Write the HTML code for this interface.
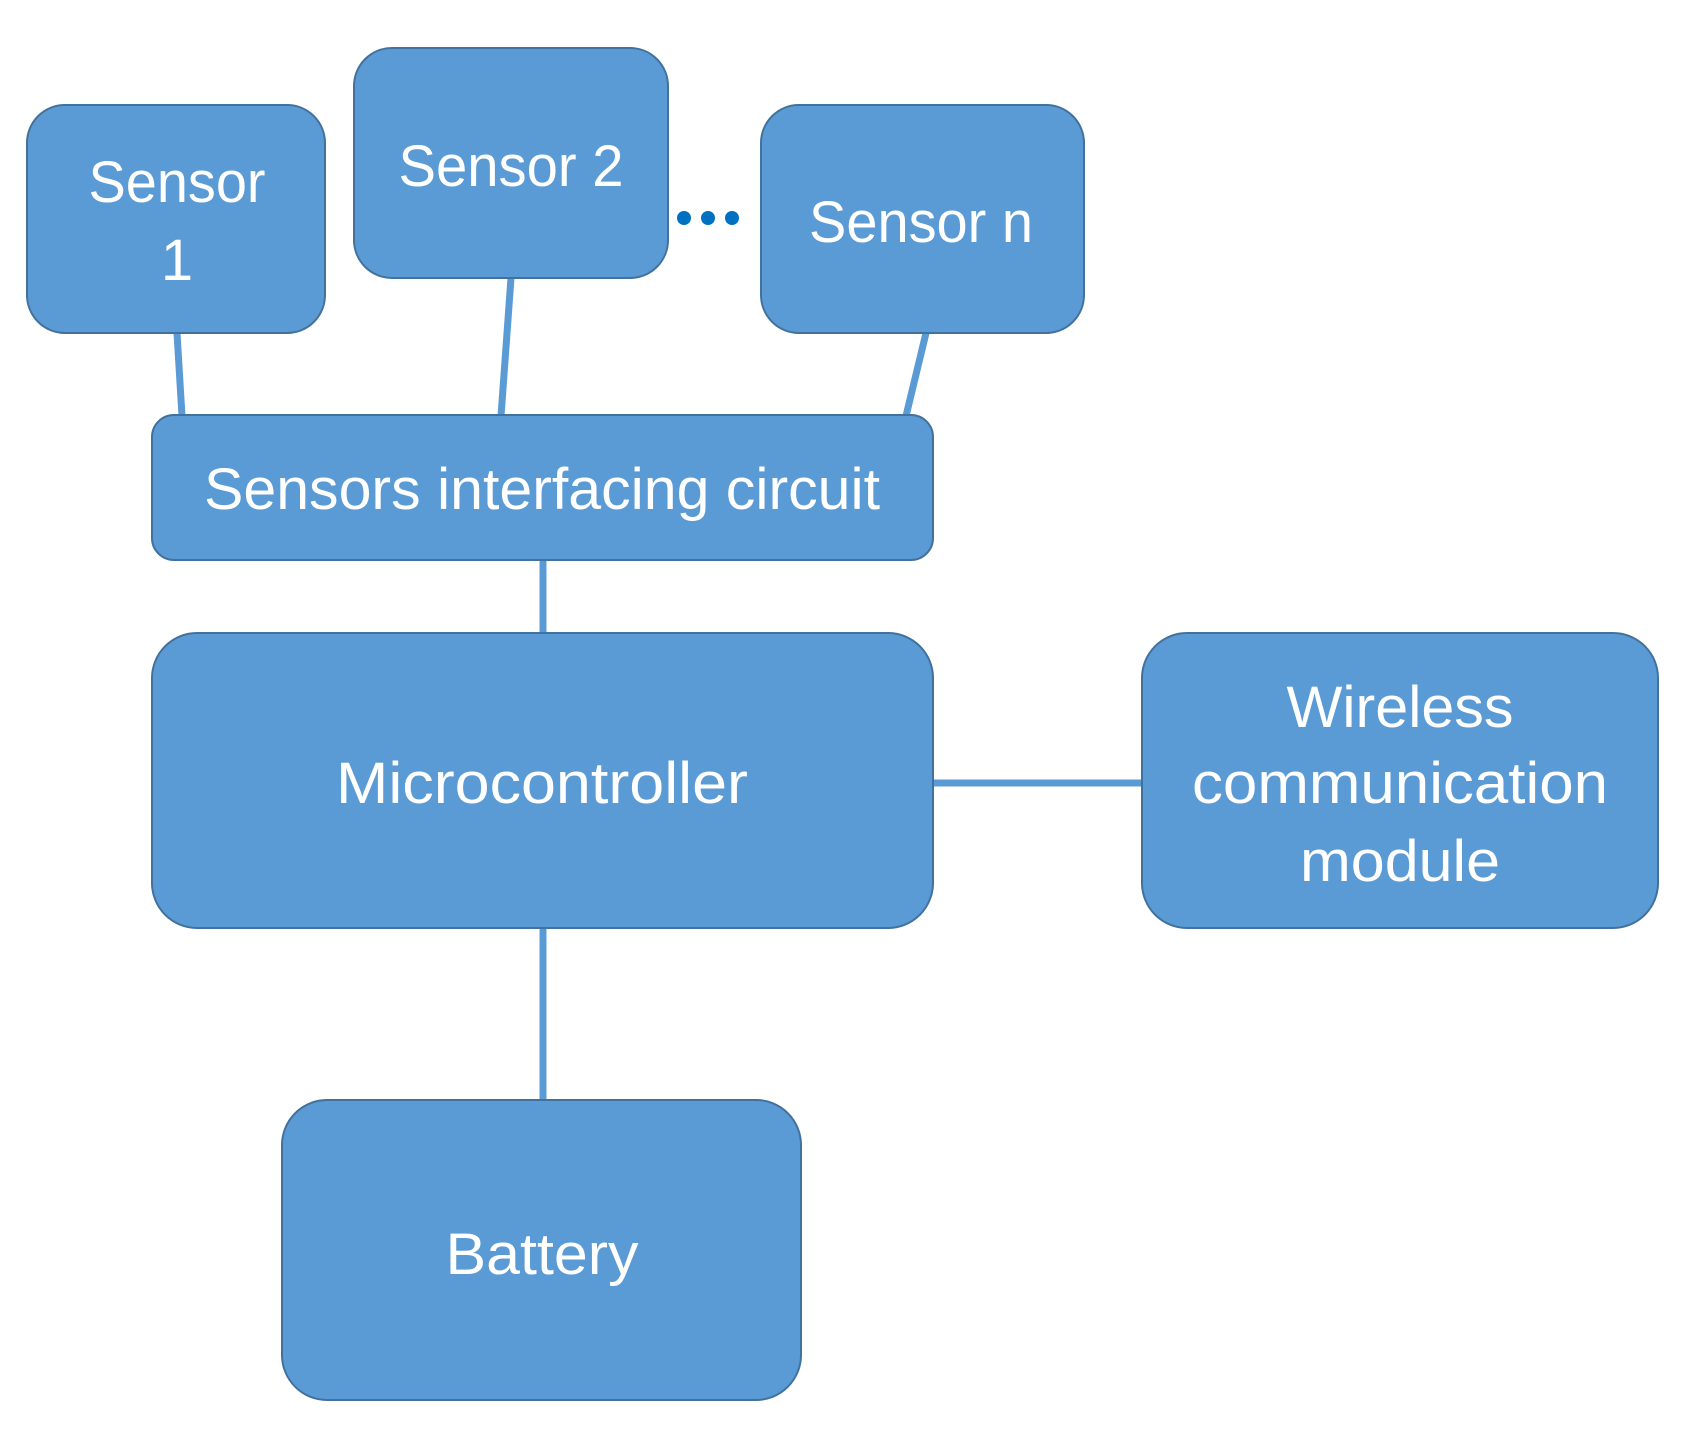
<!DOCTYPE html>
<html><head><style>html,body{margin:0;padding:0;background:#fff;}svg{display:block}</style></head>
<body>
<svg width="1689" height="1432" viewBox="0 0 1689 1432" xmlns="http://www.w3.org/2000/svg">
<g stroke="#5b9bd5" stroke-width="7" fill="none">
<line x1="177" y1="333" x2="182" y2="416"/>
<line x1="511" y1="278" x2="501" y2="416"/>
<line x1="926" y1="333" x2="906" y2="416"/>
<line x1="543" y1="560" x2="543" y2="633"/>
<line x1="543" y1="928" x2="543" y2="1100"/>
<line x1="933" y1="783" x2="1142" y2="783"/>
</g>
<g fill="#0070c0">
<circle cx="684" cy="218" r="7"/><circle cx="708" cy="218" r="7"/><circle cx="732" cy="218" r="7"/>
</g>
<g fill="#5b9bd5" stroke="#41719c" stroke-width="2">
<rect x="27" y="105" width="298" height="228" rx="38"/>
<rect x="354" y="48" width="314" height="230" rx="38"/>
<rect x="761" y="105" width="323" height="228" rx="38"/>
<rect x="152" y="415" width="781" height="145" rx="22"/>
<rect x="152" y="633" width="781" height="295" rx="45"/>
<rect x="1142" y="633" width="516" height="295" rx="45"/>
<rect x="282" y="1100" width="519" height="300" rx="45"/>
</g>
<g fill="#fff" font-family="Liberation Sans, sans-serif" font-size="58" text-anchor="middle">
<text x="177" y="202" textLength="177" lengthAdjust="spacingAndGlyphs">Sensor</text>
<text x="177" y="280">1</text>
<text x="511" y="186" textLength="225" lengthAdjust="spacingAndGlyphs">Sensor 2</text>
<text x="921" y="242" textLength="224" lengthAdjust="spacingAndGlyphs">Sensor n</text>
<text x="542" y="509" textLength="676" lengthAdjust="spacingAndGlyphs">Sensors interfacing circuit</text>
<text x="542" y="803" textLength="412" lengthAdjust="spacingAndGlyphs">Microcontroller</text>
<text x="1400" y="727" textLength="227" lengthAdjust="spacingAndGlyphs">Wireless</text>
<text x="1400" y="803" textLength="416" lengthAdjust="spacingAndGlyphs">communication</text>
<text x="1400" y="881" textLength="200" lengthAdjust="spacingAndGlyphs">module</text>
<text x="542" y="1274" textLength="193" lengthAdjust="spacingAndGlyphs">Battery</text>
</g>
</svg>
</body></html>
